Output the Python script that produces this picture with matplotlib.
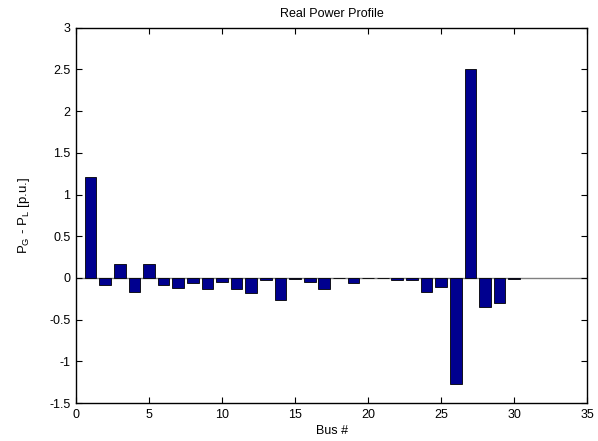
import matplotlib
matplotlib.use("Agg")
import matplotlib.pyplot as plt

plt.rcParams["font.family"] = ["Liberation Sans", "DejaVu Sans"]
plt.rcParams["mathtext.default"] = "regular"

# bus numbers and net injected real power (p.u.)
buses = list(range(1, 31))
p_net = [1.21, -0.08, 0.165, -0.165, 0.165, -0.09, -0.125, -0.055, -0.135, -0.045,
         -0.135, -0.175, -0.03, -0.27, -0.01, -0.045, -0.135, -0.005, -0.055, -0.005,
         -0.005, -0.025, -0.025, -0.17, -0.11, -1.27, 2.51, -0.35, -0.30, -0.01]

x_ticks = [0, 5, 10, 15, 20, 25, 30, 35]
y_ticks = [-1.5, -1, -0.5, 0, 0.5, 1, 1.5, 2, 2.5, 3]

fig = plt.figure(figsize=(5.98, 4.41), dpi=100)
ax = fig.add_axes([0.127, 0.086, 0.855, 0.851])

ax.bar(buses, p_net, width=0.8, color="#00008f", edgecolor="black", linewidth=0.6, zorder=2)
ax.axhline(0, color="#808080", linewidth=1.0, zorder=1)

ax.set_xlim(0, 35)
ax.set_ylim(-1.5, 3)
ax.set_xticks(x_ticks)
ax.set_yticks(y_ticks)
ax.set_yticklabels([f"{v:g}" for v in y_ticks])
ax.tick_params(direction="in", top=True, right=True, labelsize=9, length=4, width=0.8, pad=4)
for s in ax.spines.values():
    s.set_linewidth(1.0)

ax.set_title("Real Power Profile", fontsize=9, pad=8)
ax.set_xlabel("Bus #", fontsize=9, labelpad=3)
ax.set_ylabel("P$_G$ - P$_L$ [p.u.]", fontsize=9.5, labelpad=12)

fig.savefig("out.png", dpi=100)
